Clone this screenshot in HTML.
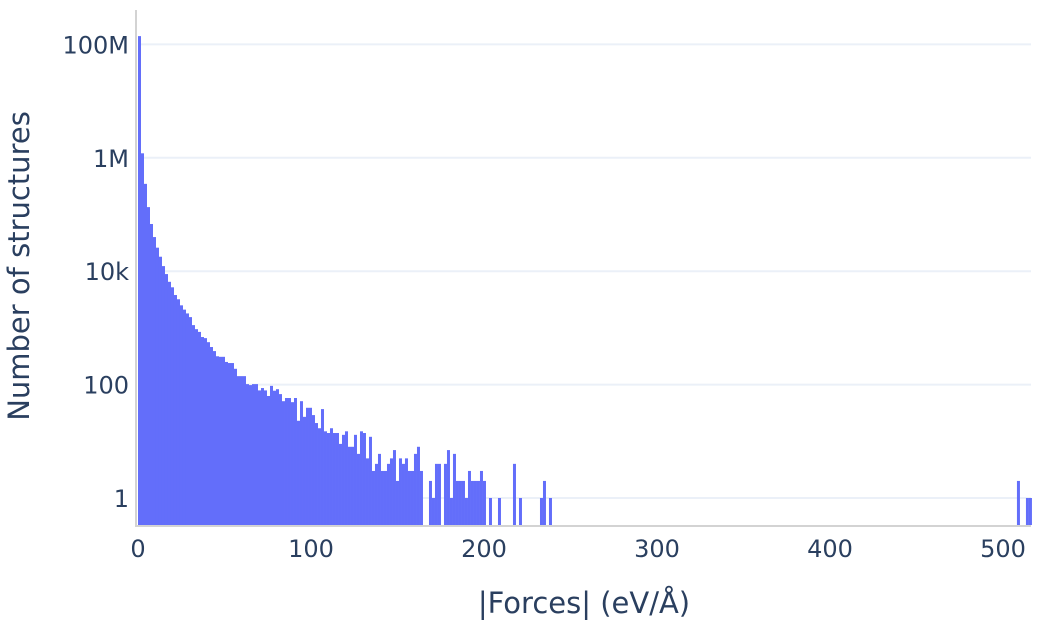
<!DOCTYPE html>
<html><head><meta charset="utf-8"><style>
html,body{margin:0;padding:0;background:#fff;}
svg{display:block;}
text{font-family:"DejaVu Sans","Liberation Sans",sans-serif;fill:#2a3f5f;}
</style></head><body>
<svg id="chart" width="1042" height="625" viewBox="0 0 1042 625" xmlns="http://www.w3.org/2000/svg">
<g id="grid"></g>
<g id="bars"></g>
<g id="axes"></g>
<text x="584" y="613" text-anchor="middle" font-size="29">|Forces| (eV/Å)</text>
<text transform="translate(29,266) rotate(-90)" text-anchor="middle" font-size="29">Number of structures</text>
</svg>
<script>
const binWidth = 1.734;
const counts = [
140000000,1200000,347000,135000,68000,40000,26000,18000,12300,8900,6500,5200,3800,3200,2500,2100,1800,1550,1120,950,850,690,660,
560,460,390,316,309,309,251,240,240,190,141,141,141,102,98,102,102,79,87,79,63,
95,78,83,68,51,58,58,49,58,23,51,27,39,39,29,21,17,37,15,14,17,14,14,9,13,15,8,8,13,6,15,14,5,12,3,4,6,3,3,4,5,7,2,5,4,5,3,3,6,8,3,
0,0,2,1,4,4,0,4,7,1,6,2,2,2,1,3,2,2,2,3,2,0,1,0,0,1,0,0,0,0,4,0,1,0,0,0,0,0,0,1,2,0,1
];
const sparseBins = [293,296,297];
const sparseCounts = [2,1,1];
const xTicks = [0,100,200,300,400,500];
const yTickVals = [1,100,10000,1000000,100000000];
const yTickLabels = ["1","100","10k","1M","100M"];

const X0 = 138, PXPERX = 1.73, XEND = 1031;
const YBOT = 525, Y1 = 498, PXPERDEC = 56.7;
const xs = v => X0 + v * PXPERX;
const ys = v => Y1 - PXPERDEC * Math.log10(v);
const NS = "http://www.w3.org/2000/svg";
function mk(tag, attrs, parent){const e=document.createElementNS(NS,tag);for(const k in attrs)e.setAttribute(k,attrs[k]);parent.appendChild(e);return e;}

const grid = document.getElementById('grid');
const axes = document.getElementById('axes');
const barsG = document.getElementById('bars');

yTickVals.forEach((v,i)=>{
  const y = ys(v);
  const l = mk('line',{x1:X0,x2:XEND,y1:y,y2:y,stroke:'#ebf0f8','stroke-width':2},grid);
  
  
  const t = mk('text',{x:129,y:y+9,'text-anchor':'end','font-size':24},axes);
  t.textContent = yTickLabels[i];
  
  
});
xTicks.forEach(v=>{
  const t = mk('text',{x:xs(v),y:557,'text-anchor':'middle','font-size':24},axes);
  t.textContent = String(v);
  
  
});

function drawBar(i,c){
  if(!c) return;
  const x1 = xs(i*binWidth), x2 = xs((i+1)*binWidth);
  const y = ys(c);
  const r = mk('rect',{x:x1,y:y,width:Math.max(0.5,x2-x1),height:YBOT-y,fill:'#636efa'},barsG);
  
  
}
counts.forEach((c,i)=>drawBar(i,c));
sparseBins.forEach((b,i)=>drawBar(b,sparseCounts[i]));

const ax = mk('line',{x1:136,x2:136,y1:10,y2:527,stroke:'#d3d3d3','stroke-width':2},axes);


const bx = mk('line',{x1:135,x2:XEND,y1:526,y2:526,stroke:'#d3d3d3','stroke-width':2},axes);


</script>
</body></html>
